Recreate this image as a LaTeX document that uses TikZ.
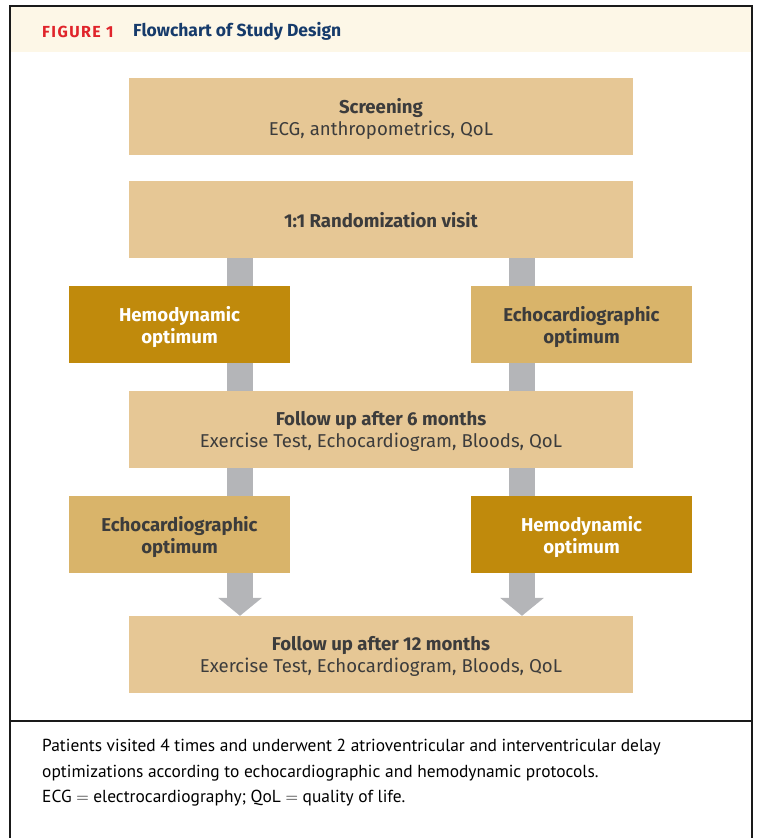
\documentclass[tikz,border=0pt]{standalone}
\usepackage{fontspec}
\setmainfont{Fira Sans}
\newfontfamily\capfont{PT Sans}
\usetikzlibrary{arrows.meta,backgrounds}
\definecolor{boxlight}{HTML}{E6C795}
\definecolor{boxmid}{HTML}{D9B46A}
\definecolor{boxdark}{HTML}{C08A0C}
\definecolor{bargray}{HTML}{B4B5B8}
\definecolor{headfill}{HTML}{FDF7E7}
\definecolor{figred}{HTML}{E0242B}
\definecolor{titlenavy}{HTML}{163B6B}
\definecolor{txtgray}{HTML}{3C3C3C}
\definecolor{framecol}{HTML}{1A1A1A}
\tikzset{
  boxtext/.style={inner sep=0pt, align=center, font=\fontsize{18.6}{22}\selectfont,
    text depth=0pt, minimum height=77pt},
  wide/.style={boxtext, fill=boxlight, minimum width=504pt, text=txtgray},
  sidemid/.style={boxtext, fill=boxmid, minimum width=221pt, text=txtgray},
  sidedark/.style={boxtext, fill=boxdark, minimum width=221pt, text=white},
  bar/.style={draw=bargray, line width=26pt},
  bararrow/.style={bar, -{Triangle[width=43pt,length=18pt]}},
}
\begin{document}
\begin{tikzpicture}[x=1pt,y=-1pt]
\useasboundingbox (0,0) rectangle (756,838);
% header band and frame
\fill[headfill] (10,6) rectangle (752,52);
\draw[framecol, line width=1.5pt] (10,845) -- (10,6) -- (752,6) -- (752,845);
\draw[framecol, line width=1.5pt] (10,721) -- (752,721);
\node[anchor=west, inner sep=0pt, text=figred, font=\bfseries\fontsize{16}{19}\selectfont\addfontfeatures{LetterSpace=9}] (fig) at (42,31.5) {FIGURE 1};
\node[anchor=west, inner sep=0pt, text=titlenavy, font=\bfseries\fontsize{17.5}{20}\selectfont] (title) at (133,31) {Flowchart of Study Design};
% boxes
\node[wide] (scr) at (381,116.5) {\textbf{Screening}\\ECG, anthropometrics, QoL};
\node[wide] (rand) at (381,219.5) {\textbf{1:1 Randomization visit}};
\node[sidedark] (hl) at (179.5,324.5) {\textbf{Hemodynamic}\\\textbf{optimum}};
\node[sidemid] (er) at (581.5,324.5) {\textbf{Echocardiographic}\\\textbf{optimum}};
\node[wide] (fu6) at (381,429.5) {\textbf{Follow up after 6 months}\\Exercise Test, Echocardiogram, Bloods, QoL};
\node[sidemid] (el) at (179.5,534.5) {\textbf{Echocardiographic}\\\textbf{optimum}};
\node[sidedark] (hr) at (581.5,534.5) {\textbf{Hemodynamic}\\\textbf{optimum}};
\node[wide] (fu12) at (381,654.5) {\textbf{Follow up after 12 months}\\Exercise Test, Echocardiogram, Bloods, QoL};
% connectors
\coordinate (lx) at (240,0);
\coordinate (rx) at (522,0);
\begin{scope}[on background layer]
\draw[bar] (rand.south -| lx) -- (fu6.north -| lx);
\draw[bar] (rand.south -| rx) -- (fu6.north -| rx);
\draw[bararrow] (fu6.south -| lx) -- (fu12.north -| lx);
\draw[bararrow] (fu6.south -| rx) -- (fu12.north -| rx);
\end{scope}
% caption
\node[anchor=north west, inner sep=0pt, align=left, text=black, font=\capfont\fontsize{17.4}{25.5}\selectfont] (cap) at (42,739) {Patients visited 4 times and underwent 2 atrioventricular and interventricular delay\\optimizations according to echocardiographic and hemodynamic protocols.\\ECG $=$ electrocardiography; QoL $=$ quality of life.};
\end{tikzpicture}
\end{document}
